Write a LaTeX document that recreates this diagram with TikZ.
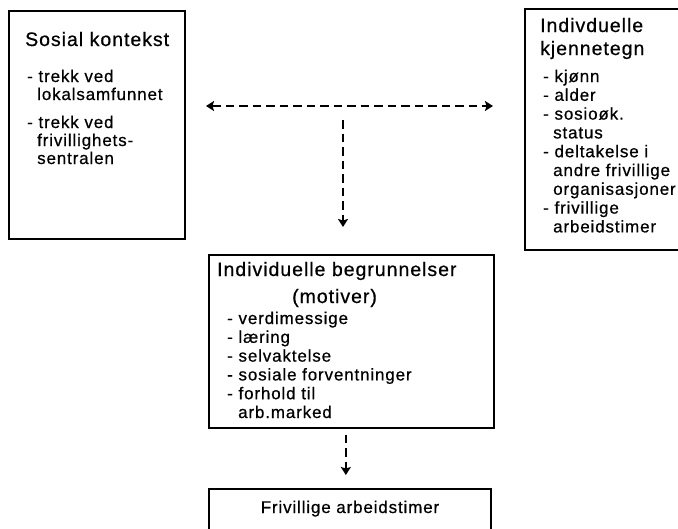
\documentclass[tikz,border=0pt]{standalone}
\usepackage{fontspec}
\setmainfont[LetterSpace=5,FakeBold=0.6]{Liberation Sans}
\usepackage{tikz}
\usetikzlibrary{arrows.meta}

\tikzset{
  boks/.style={draw, line width=1.7pt, inner sep=0pt},
  overskrift/.style={anchor=base west, inner sep=0pt, text width=260pt, align=left,
    font=\fontsize{19.5}{23}\selectfont},
  punkter/.style={anchor=base west, inner sep=0pt, text width=200pt, align=left,
    font=\fontsize{17}{18.8}\selectfont},
  stiplet/.style={->, line width=1.8pt, dash pattern=on 8.5pt off 5pt}
}

\begin{document}
\begin{tikzpicture}[>={Stealth[length=8pt,width=10pt,inset=1.5pt]}, x=1pt, y=-1pt]
    \useasboundingbox (0,0) rectangle (678,528);

    % boksene
    \node[boks, anchor=north west, minimum width=176pt, minimum height=228pt] (kontekst) at (8,10) {};
    \node[boks, anchor=north west, minimum width=170pt, minimum height=241pt] (kjenne) at (524,8) {};
    \node[boks, anchor=north west, minimum width=285pt, minimum height=173pt] (motiv) at (208,254) {};
    \node[boks, anchor=north west, minimum width=282pt, minimum height=60pt] (timer) at (208,488) {};

    % tekst
    \node[overskrift] (kontekstTitle) at (25,46) {Sosial kontekst};
    \node[punkter, font=\fontsize{17}{18}\selectfont] (kontekstList) at (27,82)
      {- trekk ved\\ \hspace*{10pt}lokalsamfunnet\\[10pt]
       - trekk ved\\ \hspace*{10pt}frivillighets-\\ \hspace*{10pt}sentralen};

    \node[overskrift] (kjenneTitle) at (540,32) {Indivduelle\\kjennetegn};
    \node[punkter] (kjenneList) at (543,82)
      {- kjønn\\- alder\\- sosioøk.\\ \hspace*{10pt}status\\- deltakelse i\\
       \hspace*{10pt}andre frivillige\\ \hspace*{10pt}organisasjoner\\- frivillige\\
       \hspace*{10pt}arbeidstimer};

    \node[overskrift, font=\fontsize{19.5}{27}\selectfont] (motivTitle) at (217,276)
      {Individuelle begrunnelser\\ \hspace*{75pt}(motiver)};
    \node[punkter] (motivList) at (227,324)
      {- verdimessige\\- læring\\- selvaktelse\\- sosiale forventninger\\
       - forhold til\\ \hspace*{11pt}arb.marked};

    \node[anchor=base, inner sep=0pt, font=\fontsize{17}{20}\selectfont] (timerText) at (350,513)
      {Frivillige arbeidstimer};

    % pilene
    \coordinate (hl) at (206,106);
    \coordinate (hr) at (493,106);
    \coordinate (vt) at (343,120);
    \draw[stiplet, <->] (hl) -- (hr);
    \draw[stiplet, shorten >=27pt] (vt) -- (vt |- motiv.north);
    \draw[stiplet, shorten <=6pt, shorten >=13pt] ([xshift=-5.5pt]motiv.south) -- ([xshift=-5.5pt]motiv.south |- timer.north);

\end{tikzpicture}
\end{document}
